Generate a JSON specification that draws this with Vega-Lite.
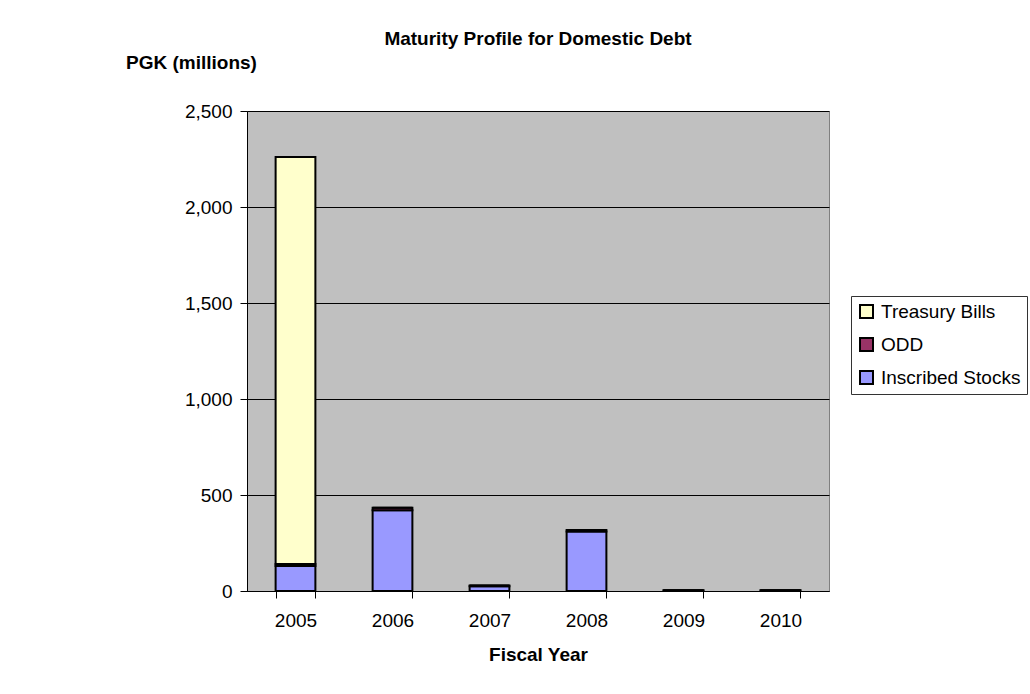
{
  "$schema": "https://vega.github.io/schema/vega-lite/v6.json",
  "autosize": "none",
  "width": 582,
  "height": 480,
  "padding": {"left": 247, "top": 111, "right": 201, "bottom": 103},
  "background": "white",
  "title": {
    "text": "Maturity Profile for Domestic Debt",
    "font": "Liberation Sans",
    "fontSize": 19,
    "fontWeight": "bold",
    "color": "black",
    "anchor": "middle",
    "frame": "group",
    "baseline": "alphabetic",
    "offset": -11
  },
  "data": {
    "values": [
      {"year": "2005", "series": "Inscribed Stocks", "k": 1, "value": 130},
      {"year": "2005", "series": "ODD", "k": 2, "value": 10},
      {"year": "2005", "series": "Treasury Bills", "k": 3, "value": 2120},
      {"year": "2006", "series": "Inscribed Stocks", "k": 1, "value": 420},
      {"year": "2006", "series": "ODD", "k": 2, "value": 14},
      {"year": "2006", "series": "Treasury Bills", "k": 3, "value": 0},
      {"year": "2007", "series": "Inscribed Stocks", "k": 1, "value": 25},
      {"year": "2007", "series": "ODD", "k": 2, "value": 4},
      {"year": "2007", "series": "Treasury Bills", "k": 3, "value": 0},
      {"year": "2008", "series": "Inscribed Stocks", "k": 1, "value": 310},
      {"year": "2008", "series": "ODD", "k": 2, "value": 8},
      {"year": "2008", "series": "Treasury Bills", "k": 3, "value": 0},
      {"year": "2009", "series": "Inscribed Stocks", "k": 1, "value": 3},
      {"year": "2009", "series": "ODD", "k": 2, "value": 1},
      {"year": "2009", "series": "Treasury Bills", "k": 3, "value": 0},
      {"year": "2010", "series": "Inscribed Stocks", "k": 1, "value": 3},
      {"year": "2010", "series": "ODD", "k": 2, "value": 1},
      {"year": "2010", "series": "Treasury Bills", "k": 3, "value": 0}
    ]
  },
  "mark": {"type": "bar", "stroke": "black", "strokeWidth": 2},
  "encoding": {
    "x": {
      "field": "year",
      "type": "ordinal",
      "scale": {"paddingInner": 0.59, "paddingOuter": 0.295},
      "axis": {
        "title": "Fiscal Year",
        "labelAngle": 0,
        "labelFont": "Liberation Sans",
        "labelFontSize": 19,
        "labelColor": "black",
        "labelPadding": 13,
        "titleFont": "Liberation Sans",
        "titleFontSize": 19,
        "titleFontWeight": "bold",
        "titleColor": "black",
        "titlePadding": 15,
        "domainColor": "black",
        "tickColor": "black",
        "tickSize": 7,
        "tickBand": "extent"
      }
    },
    "y": {
      "field": "value",
      "type": "quantitative",
      "stack": "zero",
      "scale": {"domain": [0, 2500], "nice": false},
      "axis": {
        "values": [0, 500, 1000, 1500, 2000, 2500],
        "format": ",d",
        "title": "PGK (millions)",
        "titleAngle": 0,
        "titleX": -56,
        "titleY": -49,
        "titleAlign": "center",
        "titleBaseline": "middle",
        "titleFont": "Liberation Sans",
        "titleFontSize": 19,
        "titleFontWeight": "bold",
        "titleColor": "black",
        "labelFont": "Liberation Sans",
        "labelFontSize": 19,
        "labelColor": "black",
        "labelPadding": 8,
        "domainColor": "black",
        "tickColor": "black",
        "tickSize": 7,
        "grid": true,
        "gridColor": "black",
        "gridWidth": 1
      }
    },
    "color": {
      "field": "series",
      "type": "nominal",
      "scale": {
        "domain": ["Treasury Bills", "ODD", "Inscribed Stocks"],
        "range": ["#FFFFCC", "#993366", "#9999FF"]
      },
      "legend": {
        "title": null,
        "orient": "none",
        "legendX": 604,
        "legendY": 185,
        "symbolType": "square",
        "symbolSize": 169,
        "symbolStrokeColor": "black",
        "symbolStrokeWidth": 2,
        "labelFont": "Liberation Sans",
        "labelFontSize": 19,
        "labelColor": "black",
        "labelOffset": 5,
        "rowPadding": 12,
        "padding": 6,
        "strokeColor": "#333333",
        "fillColor": "white"
      }
    },
    "order": {"field": "k", "type": "quantitative"}
  },
  "config": {
    "view": {"fill": "#C0C0C0", "stroke": "#808080", "strokeWidth": 1}
  }
}
